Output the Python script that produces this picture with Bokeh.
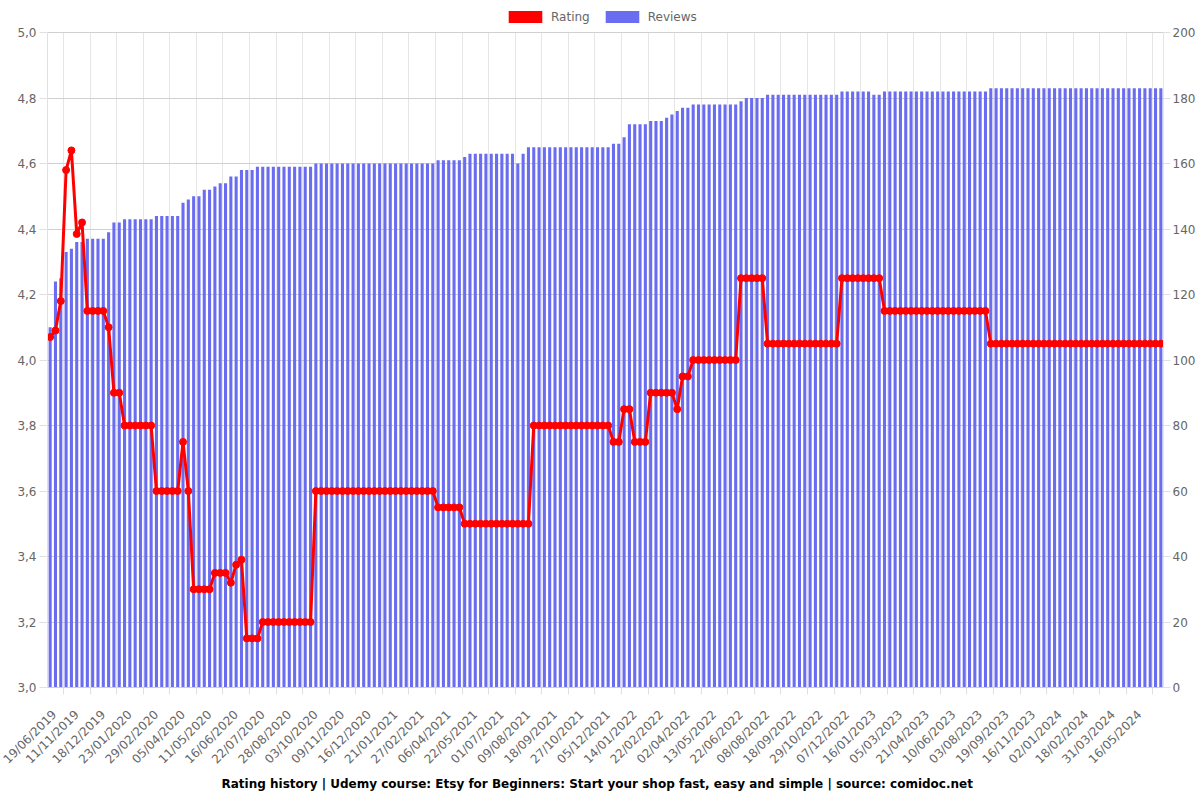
from bokeh.plotting import figure
from bokeh.models import (Range1d, LinearAxis, FixedTicker, ColumnDataSource, Legend,
                          LegendItem, Title, CustomJSTickFormatter)
from bokeh.embed import file_html
from bokeh.resources import INLINE

# ---------------- data ----------------
# one label is shown for every 5th snapshot (index 0, 5, 10, ...)
tick_labels = [
    "19/06/2019", "11/11/2019", "18/12/2019", "23/01/2020", "29/02/2020", "05/04/2020",
    "11/05/2020", "16/06/2020", "22/07/2020", "28/08/2020", "03/10/2020", "09/11/2020",
    "16/12/2020", "21/01/2021", "27/02/2021", "06/04/2021", "22/05/2021", "01/07/2021",
    "09/08/2021", "18/09/2021", "27/10/2021", "05/12/2021", "14/01/2022", "22/02/2022",
    "02/04/2022", "13/05/2022", "22/06/2022", "08/08/2022", "18/09/2022", "29/10/2022",
    "07/12/2022", "16/01/2023", "05/03/2023", "21/04/2023", "10/06/2023", "03/08/2023",
    "19/09/2023", "16/11/2023", "02/01/2024", "18/02/2024", "31/03/2024", "16/05/2024",
]

reviews = [
    110, 124, 125, 133, 134, 136, 136, 137, 137, 137,
    137, 139, 142, 142, 143, 143, 143, 143, 143, 143,
    144, 144, 144, 144, 144, 148, 149, 150, 150, 152,
    152, 153, 154, 154, 156, 156, 158, 158, 158, 159,
    159, 159, 159, 159, 159, 159, 159, 159, 159, 159,
    160, 160, 160, 160, 160, 160, 160, 160, 160, 160,
    160, 160, 160, 160, 160, 160, 160, 160, 160, 160,
    160, 160, 160, 161, 161, 161, 161, 161, 162, 163,
    163, 163, 163, 163, 163, 163, 163, 163, 160, 163,
    165, 165, 165, 165, 165, 165, 165, 165, 165, 165,
    165, 165, 165, 165, 165, 165, 166, 166, 168, 172,
    172, 172, 172, 173, 173, 173, 174, 175, 176, 177,
    177, 178, 178, 178, 178, 178, 178, 178, 178, 178,
    179, 180, 180, 180, 180, 181, 181, 181, 181, 181,
    181, 181, 181, 181, 181, 181, 181, 181, 181, 182,
    182, 182, 182, 182, 182, 181, 181, 182, 182, 182,
    182, 182, 182, 182, 182, 182, 182, 182, 182, 182,
    182, 182, 182, 182, 182, 182, 182, 183, 183, 183,
    183, 183, 183, 183, 183, 183, 183, 183, 183, 183,
    183, 183, 183, 183, 183, 183, 183, 183, 183, 183,
    183, 183, 183, 183, 183, 183, 183, 183, 183, 183,
]

rating = [
    4.07, 4.09, 4.18, 4.58, 4.64, 4.385, 4.42, 4.15, 4.15, 4.15,
    4.15, 4.10, 3.90, 3.90, 3.80, 3.80, 3.80, 3.80, 3.80, 3.80,
    3.60, 3.60, 3.60, 3.60, 3.60, 3.75, 3.60, 3.30, 3.30, 3.30,
    3.30, 3.35, 3.35, 3.35, 3.32, 3.375, 3.39, 3.15, 3.15, 3.15,
    3.20, 3.20, 3.20, 3.20, 3.20, 3.20, 3.20, 3.20, 3.20, 3.20,
    3.60, 3.60, 3.60, 3.60, 3.60, 3.60, 3.60, 3.60, 3.60, 3.60,
    3.60, 3.60, 3.60, 3.60, 3.60, 3.60, 3.60, 3.60, 3.60, 3.60,
    3.60, 3.60, 3.60, 3.55, 3.55, 3.55, 3.55, 3.55, 3.50, 3.50,
    3.50, 3.50, 3.50, 3.50, 3.50, 3.50, 3.50, 3.50, 3.50, 3.50,
    3.50, 3.80, 3.80, 3.80, 3.80, 3.80, 3.80, 3.80, 3.80, 3.80,
    3.80, 3.80, 3.80, 3.80, 3.80, 3.80, 3.75, 3.75, 3.85, 3.85,
    3.75, 3.75, 3.75, 3.90, 3.90, 3.90, 3.90, 3.90, 3.85, 3.95,
    3.95, 4.00, 4.00, 4.00, 4.00, 4.00, 4.00, 4.00, 4.00, 4.00,
    4.25, 4.25, 4.25, 4.25, 4.25, 4.05, 4.05, 4.05, 4.05, 4.05,
    4.05, 4.05, 4.05, 4.05, 4.05, 4.05, 4.05, 4.05, 4.05, 4.25,
    4.25, 4.25, 4.25, 4.25, 4.25, 4.25, 4.25, 4.15, 4.15, 4.15,
    4.15, 4.15, 4.15, 4.15, 4.15, 4.15, 4.15, 4.15, 4.15, 4.15,
    4.15, 4.15, 4.15, 4.15, 4.15, 4.15, 4.15, 4.05, 4.05, 4.05,
    4.05, 4.05, 4.05, 4.05, 4.05, 4.05, 4.05, 4.05, 4.05, 4.05,
    4.05, 4.05, 4.05, 4.05, 4.05, 4.05, 4.05, 4.05, 4.05, 4.05,
    4.05, 4.05, 4.05, 4.05, 4.05, 4.05, 4.05, 4.05, 4.05, 4.05,
]

rating_ticks = [3.0, 3.2, 3.4, 3.6, 3.8, 4.0, 4.2, 4.4, 4.6, 4.8, 5.0]
review_ticks = [0, 20, 40, 60, 80, 100, 120, 140, 160, 180, 200]
title_text = ("Rating history | Udemy course: Etsy for Beginners: Start your shop fast, "
              "easy and simple | source: comidoc.net")

# ---------------- derived ----------------
n = len(reviews)
x = list(range(n))
label_every = 5
label_pos = x[::label_every]
grid_pos = [i - label_every / 2 for i in label_pos[1:]] + [label_pos[-1] + label_every / 2]

src = ColumnDataSource(dict(x=x, reviews=reviews, rating=rating))

FONT = "DejaVu Sans"
GREY = "#666666"

# layout: the frame reaches the top of the canvas; the data area (3.0..5.0) is its
# lower 655 px, the strip above holds the legend.
PLOT_H = 655
TOP_PAD = 32
FRAME_H = PLOT_H + TOP_PAD
r_lo, r_hi = rating_ticks[0], rating_ticks[-1]
v_lo, v_hi = review_ticks[0], review_ticks[-1]
r_top = r_lo + (r_hi - r_lo) * FRAME_H / PLOT_H
v_top = v_lo + (v_hi - v_lo) * FRAME_H / PLOT_H

p = figure(width=1200, height=800, output_backend="svg", toolbar_location=None,
           x_range=Range1d(-0.5, n - 0.5), y_range=Range1d(r_lo, r_top),
           min_border_left=47, min_border_right=37, min_border_top=0, min_border_bottom=113)
p.extra_y_ranges = {"reviews": Range1d(v_lo, v_top)}
p.outline_line_color = None

# x axis
xa = p.xaxis[0]
xa.ticker = FixedTicker(ticks=label_pos, minor_ticks=grid_pos)
xa.major_label_overrides = {t: lab for t, lab in zip(label_pos, tick_labels)}
xa.major_label_orientation = 0.785398
xa.major_tick_out = 0
xa.major_tick_in = 0
xa.minor_tick_out = 7
xa.minor_tick_in = 0
xa.minor_tick_line_color = "#e0e0e0"
xa.axis_line_color = "#cfcfcf"
xa.major_label_standoff = 18
xa.major_label_text_font = FONT
xa.major_label_text_font_size = "12px"
xa.major_label_text_color = GREY

# left axis
ya = p.yaxis[0]
ya.ticker = FixedTicker(ticks=rating_ticks)
ya.bounds = (r_lo, r_hi)
ya.formatter = CustomJSTickFormatter(code="return tick.toFixed(1).replace('.', ',');")
ya.major_tick_out = 8
ya.major_tick_in = 0
ya.minor_tick_out = 0
ya.minor_tick_in = 0
ya.major_tick_line_color = "#e0e0e0"
ya.axis_line_color = "#e0e0e0"
ya.major_label_standoff = 3
ya.major_label_text_font = FONT
ya.major_label_text_font_size = "12px"
ya.major_label_text_color = GREY

# right axis
ra = LinearAxis(y_range_name="reviews", ticker=FixedTicker(ticks=review_ticks),
                bounds=(v_lo, v_hi))
ra.major_tick_out = 7
ra.major_tick_in = 0
ra.minor_tick_out = 0
ra.minor_tick_in = 0
ra.major_tick_line_color = "#e0e0e0"
ra.axis_line_color = "#e5e5e5"
ra.major_label_standoff = 2
ra.major_label_text_font = FONT
ra.major_label_text_font_size = "12px"
ra.major_label_text_color = GREY
p.add_layout(ra, "right")

# grids
p.ygrid.ticker = FixedTicker(ticks=rating_ticks)
p.ygrid.grid_line_color = "#d0d0d0"
p.xgrid.ticker = FixedTicker(ticks=grid_pos)
p.xgrid.grid_line_color = "#e6e6e6"
try:
    p.xgrid.cross_bounds = (r_lo, r_hi)
except Exception:
    p.xgrid.visible = False
    p.segment(x0=grid_pos, y0=[r_lo] * len(grid_pos), x1=grid_pos, y1=[r_hi] * len(grid_pos),
              line_color="#e6e6e6", line_width=1, level="underlay")

# marks
bars = p.vbar(x="x", top="reviews", bottom=0, width=0.58, source=src, y_range_name="reviews",
              fill_color="#6b6df0", line_color=None)
p.line(x="x", y="rating", source=src, line_color="#ff0000", line_width=3)
p.scatter(x="x", y="rating", source=src, size=7, fill_color="#ff0000", line_color="#ff0000")

# legend-only swatch for the rating series: a zero-size box, invisible in the plot
swatch_src = ColumnDataSource(dict(x=[0], top=[r_lo]))
rating_swatch = p.vbar(x="x", top="top", bottom=r_lo, width=0, source=swatch_src,
                       fill_color="#ff0000", line_color=None)

# legend in the strip above the data area (screen offset from the frame's lower-left)
legend = Legend(items=[LegendItem(label="Rating", renderers=[rating_swatch]),
                       LegendItem(label="Reviews", renderers=[bars])],
                orientation="horizontal", location=(457, FRAME_H - 24),
                glyph_width=42, glyph_height=15, label_standoff=5, spacing=11,
                padding=0, margin=0, border_line_color=None, background_fill_alpha=0,
                label_text_font=FONT, label_text_font_size="12px", label_text_color=GREY)
p.add_layout(legend)

title = Title(text=title_text, align="left", offset=174, text_font=FONT,
              text_font_size="12px", text_font_style="bold", text_color="#000000", standoff=0)
p.add_layout(title, "below")

open("out.html", "w").write(file_html(p, INLINE))
